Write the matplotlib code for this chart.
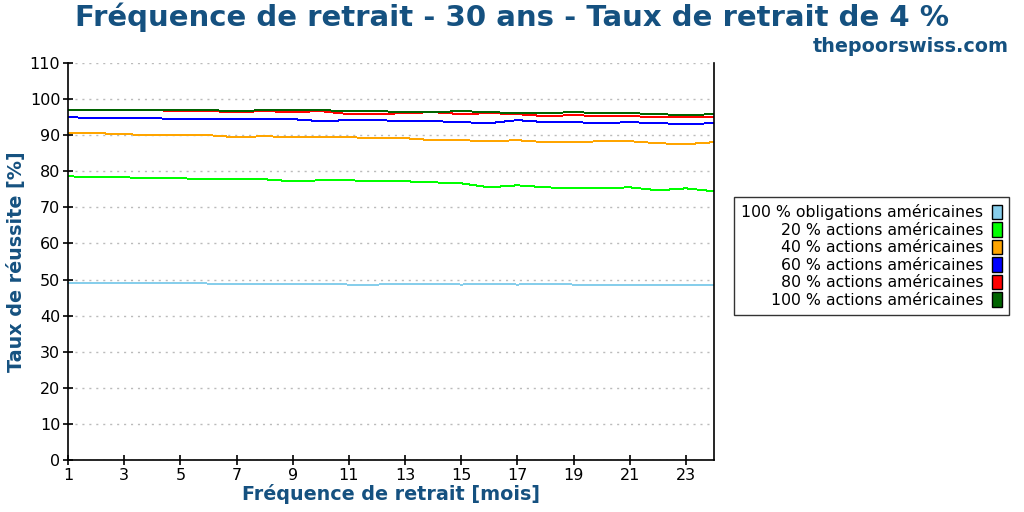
import matplotlib
matplotlib.use("Agg")
import matplotlib.pyplot as plt
from matplotlib.patches import Patch

months = list(range(1, 25))

labels = [
    "100 % obligations américaines",
    "20 % actions américaines",
    "40 % actions américaines",
    "60 % actions américaines",
    "80 % actions américaines",
    "100 % actions américaines",
]
colors = ["#87ceeb", "#00ff00", "#ffa500", "#0000ff", "#ff0000", "#006400"]

bonds_100 = [49.17, 49.17, 49.17, 49.17, 49.17, 48.89, 48.89, 48.89, 48.89, 48.89,
             48.61, 48.61, 48.89, 48.89, 48.61, 48.89, 48.61, 48.89, 48.61, 48.61,
             48.61, 48.61, 48.61, 48.61]
stocks_20 = [78.61, 78.33, 78.33, 78.06, 78.06, 77.78, 77.78, 77.78, 77.22, 77.50,
             77.50, 77.22, 77.22, 76.94, 76.67, 75.56, 76.11, 75.56, 75.28, 75.28,
             75.56, 74.72, 75.28, 74.44]
stocks_40 = [90.56, 90.56, 90.28, 90.00, 90.00, 90.00, 89.44, 89.72, 89.44, 89.44,
             89.44, 89.17, 89.17, 88.61, 88.61, 88.33, 88.61, 88.06, 88.06, 88.33,
             88.33, 87.78, 87.50, 88.06]
stocks_60 = [95.00, 94.72, 94.72, 94.72, 94.44, 94.44, 94.44, 94.44, 94.44, 93.89,
             94.17, 94.17, 93.89, 93.89, 93.61, 93.33, 94.17, 93.61, 93.61, 93.33,
             93.61, 93.33, 93.06, 93.33]
stocks_80 = [96.94, 96.94, 96.94, 96.94, 96.67, 96.67, 96.39, 96.67, 96.39, 96.67,
             95.83, 95.83, 96.11, 96.39, 95.83, 96.11, 95.83, 95.28, 95.56, 95.28,
             95.28, 95.00, 95.00, 95.00]
stocks_100 = [96.94, 96.94, 96.94, 96.94, 96.94, 96.94, 96.67, 96.94, 96.94, 96.94,
              96.67, 96.67, 96.39, 96.39, 96.67, 96.39, 96.11, 96.11, 96.39, 96.11,
              96.11, 95.83, 95.56, 95.83]

series = [bonds_100, stocks_20, stocks_40, stocks_60, stocks_80, stocks_100]

x_ticks = list(range(1, 24, 2))
y_ticks = list(range(0, 111, 10))

title_color = "#155180"

fig = plt.figure(figsize=(10.24, 5.12), dpi=100)
ax = fig.add_axes([68 / 1024, 1 - 460 / 512, (714 - 68) / 1024, (460 - 63) / 512])

for vals, col, lab in zip(series, colors, labels):
    ax.plot(months, vals, color=col, linewidth=0.7, antialiased=False, label=lab)

ax.set_xlim(1, 24)
ax.set_ylim(0, 110)
ax.set_xticks(x_ticks)
ax.set_yticks(y_ticks)
ax.tick_params(axis="both", direction="inout", length=7, width=1.2,
               labelsize=11.5, colors="black", pad=2)
ax.spines["top"].set_visible(False)
for s in ["left", "right", "bottom"]:
    ax.spines[s].set_linewidth(1.2)
    ax.spines[s].set_color("black")
ax.yaxis.grid(True, linestyle=(0, (1.5, 3.5)), color="#bbbbbb", linewidth=1)
ax.xaxis.grid(False)
ax.set_axisbelow(True)

ax.set_xlabel("Fréquence de retrait [mois]", fontsize=13.8, fontweight="bold",
              color=title_color, labelpad=1)
ax.set_ylabel("Taux de réussite [%]", fontsize=13.8, fontweight="bold",
              color=title_color, labelpad=3)

fig.text(0.5, 1 - 17 / 512, "Fréquence de retrait - 30 ans - Taux de retrait de 4 %",
         ha="center", va="center", fontsize=21, fontweight="bold", color=title_color)
fig.text(1009 / 1024, 1 - 46 / 512, "thepoorswiss.com", ha="right", va="center",
         fontsize=13.8, fontweight="bold", color=title_color)

handles = [Patch(facecolor=c, edgecolor="black", linewidth=1) for c in colors]
leg = fig.legend(handles, labels, loc="center left",
                 bbox_to_anchor=(734 / 1024, 1 - 256 / 512),
                 markerfirst=False, fontsize=11.3, frameon=True, fancybox=False,
                 edgecolor="black", handlelength=0.6, handleheight=1.05,
                 handletextpad=0.6, labelspacing=0.12, borderpad=0.45,
                 borderaxespad=0)
leg.get_frame().set_linewidth(1.0)

fig.savefig("out.png", dpi=100)
